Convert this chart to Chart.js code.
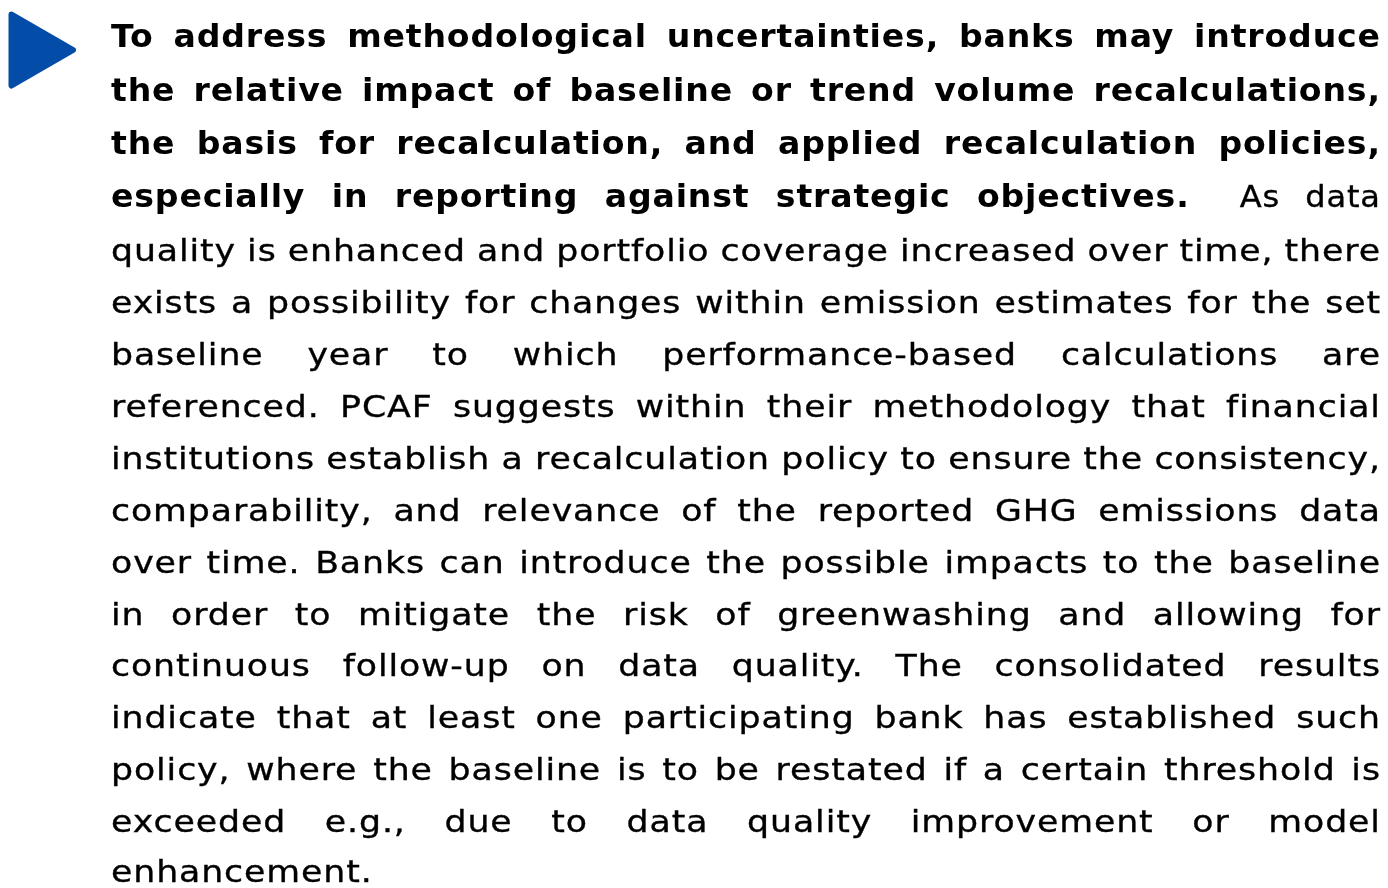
<!DOCTYPE html>
<html>
<head>
<meta charset="utf-8">
<script src="https://cdn.jsdelivr.net/npm/chart.js@4.4.1/dist/chart.umd.min.js"></script>
<style>
  html, body { margin: 0; padding: 0; background: #ffffff; }
  body { width: 1388px; height: 888px; position: relative; overflow: hidden; }
  #marker { position: absolute; left: 0; top: 0; }
  #para { position: absolute; left: 0; top: 0; width: 1388px; height: 888px;
          font-family: "DejaVu Sans", sans-serif; color: #000; }
  .ln { position: absolute; left: 111px; height: 28px; line-height: 28px; white-space: pre; transform-origin: 0 50%; }
  .ln > span.w { display: inline-block; white-space: pre; }
  .reg { -webkit-text-stroke: 0.35px #000; }
  b { font-weight: bold; color: #000; }
</style>
</head>
<body>
<canvas id="marker" width="100" height="100"></canvas>
<div id="para"></div>
<script>
// ---- data ----
const markerX = [32];
const markerY = [50];
const markerColor = "#034ca8";

const boldLines = [
  "To address methodological uncertainties, banks may introduce",
  "the relative impact of baseline or trend volume recalculations,",
  "the basis for recalculation, and applied recalculation policies,",
  "especially in reporting against strategic objectives."
];
const bodyLines = [
  "As data",
  "quality is enhanced and portfolio coverage increased over time, there",
  "exists a possibility for changes within emission estimates for the set",
  "baseline year to which performance-based calculations are",
  "referenced. PCAF suggests within their methodology that financial",
  "institutions establish a recalculation policy to ensure the consistency,",
  "comparability, and relevance of the reported GHG emissions data",
  "over time. Banks can introduce the possible impacts to the baseline",
  "in order to mitigate the risk of greenwashing and allowing for",
  "continuous follow-up on data quality. The consolidated results",
  "indicate that at least one participating bank has established such",
  "policy, where the baseline is to be restated if a certain threshold is",
  "exceeded e.g., due to data quality improvement or model",
  "enhancement."
];

// ---- text block ----
const TARGET = 1269;
const FS_BOLD = 32, FS_REG = 31, LS = 0.8;
const para = document.getElementById('para');
const rows = [];
boldLines.forEach((t, i) => {
  if (i < boldLines.length - 1) rows.push({ bold: t, reg: "" });
  else rows.push({ bold: t, reg: bodyLines[0] });
});
bodyLines.slice(1).forEach(t => rows.push({ bold: "", reg: t }));

function measure(text, bold) {
  const s = document.createElement('span');
  s.style.cssText = 'position:absolute;visibility:hidden;white-space:pre;font-family:"DejaVu Sans";font-size:' +
    (bold ? FS_BOLD : FS_REG) + 'px;letter-spacing:' + LS + 'px;font-weight:' + (bold ? 'bold' : 'normal');
  s.textContent = text;
  document.body.appendChild(s);
  const w = s.getBoundingClientRect().width;
  s.remove();
  return w;
}
// horizontal scale so that letter widths match the reference's wide typeface
function scaleFrom(text, bold, gap) {
  const gaps = text.split(' ').length - 1;
  const letters = text.split(' ').reduce((a, wd) => a + measure(wd, bold), 0);
  return (TARGET - gaps * gap) / letters;
}
const sReg = scaleFrom(bodyLines[1], false, 11);
const sBold = scaleFrom(boldLines[1], true, 18);

function baselineFor(i) {
  if (i === 16) return 882;
  return i < 4 ? 47.3 + 53.35 * i : 260.7 + 51.94 * (i - 4);
}

rows.forEach((r, i) => {
  const div = document.createElement('div');
  div.className = 'ln';
  const fs = r.bold ? FS_BOLD : FS_REG;
  const sc = r.bold ? sBold : sReg;
  div.style.fontSize = fs + 'px';
  div.style.top = (baselineFor(i) - (14 + 0.346 * fs)) + 'px';
  div.style.transform = 'scaleX(' + sc + ')';
  const w = document.createElement('span');
  w.className = 'w';
  if (r.bold) {
    const b = document.createElement('b');
    b.textContent = r.bold;
    b.style.letterSpacing = LS + 'px';
    w.appendChild(b);
  }
  if (r.reg) {
    const s = document.createElement('span');
    s.className = 'reg';
    s.textContent = (r.bold ? "  " : "") + r.reg;
    s.style.letterSpacing = LS + 'px';
    s.style.fontSize = FS_REG + 'px';
    w.appendChild(s);
  }
  div.appendChild(w);
  para.appendChild(div);
  if (i < rows.length - 1) {
    const full = (r.bold || "") + (r.bold && r.reg ? "  " : "") + (r.reg || "");
    const spaces = (full.match(/ /g) || []).length;
    const natural = w.getBoundingClientRect().width / sc;
    if (spaces > 0) {
      w.style.wordSpacing = ((TARGET / sc + LS - natural) / spaces) + 'px';
    }
  }
});

// ---- marker drawn with Chart.js ----
const roundJoin = {
  id: 'roundJoin',
  beforeDatasetsDraw(chart) { chart.ctx.lineJoin = 'round'; }
};
new Chart(document.getElementById('marker'), {
  type: 'scatter',
  data: {
    datasets: [{
      data: markerX.map((x, i) => ({ x: x, y: markerY[i] })),
      pointStyle: 'triangle',
      rotation: 90,
      radius: 41,
      hoverRadius: 41,
      backgroundColor: markerColor,
      borderColor: markerColor,
      borderWidth: 6,
      clip: false
    }]
  },
  options: {
    responsive: false,
    animation: false,
    events: [],
    layout: { padding: 0, autoPadding: false },
    plugins: { legend: { display: false }, tooltip: { enabled: false } },
    scales: {
      x: { type: 'linear', display: false, min: 0, max: 100 },
      y: { type: 'linear', display: false, min: 0, max: 100, reverse: true }
    }
  },
  plugins: [roundJoin]
});
</script>
</body>
</html>
